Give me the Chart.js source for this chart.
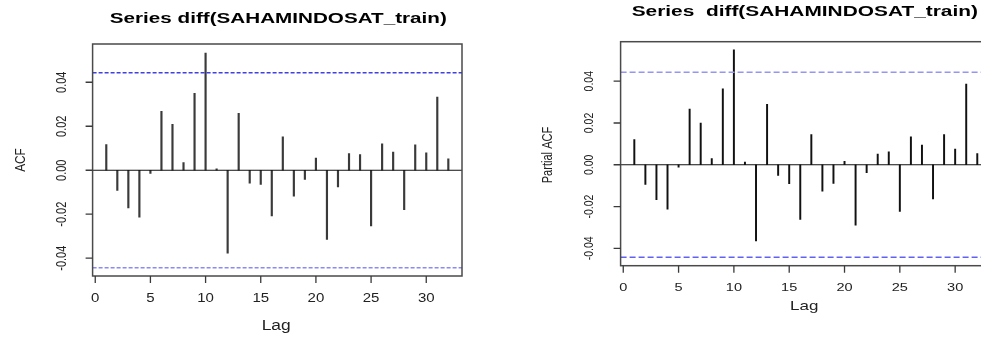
<!DOCTYPE html>
<html>
<head>
<meta charset="utf-8">
<script src="https://cdn.jsdelivr.net/npm/chart.js@4.4.1/dist/chart.umd.min.js"></script>
<style>
    html, body { margin: 0; padding: 0; background: #fff; overflow: hidden; }
    body { width: 981px; height: 337px; position: relative; }
    canvas { position: absolute; top: 0; }
    #acfChart { left: 0; }
    #pacfChart { left: 490px; }
</style>
</head>
<body>
<canvas id="acfChart" width="490" height="337"></canvas>
<canvas id="pacfChart" width="520" height="337"></canvas>
<script>
const lags = [1, 2, 3, 4, 5, 6, 7, 8, 9, 10, 11, 12, 13, 14, 15, 16,
    17, 18, 19, 20, 21, 22, 23, 24, 25, 26, 27, 28, 29, 30, 31, 32];

const acfValues = [0.0117, -0.0092, -0.0171, -0.0214, -0.0014, 0.0268, 0.0209, 0.0035,
    0.0350, 0.0533, 0.0006, -0.0377, 0.0259, -0.0059, -0.0065, -0.0208,
    0.0152, -0.0118, -0.0042, 0.0055, -0.0315, -0.0076, 0.0076, 0.0071,
    -0.0253, 0.0120, 0.0082, -0.0179, 0.0115, 0.0079, 0.0333, 0.0052];

const pacfValues = [0.0120, -0.0094, -0.0167, -0.0212, -0.0011, 0.0266, 0.0199, 0.0030,
    0.0364, 0.0550, 0.0013, -0.0364, 0.0289, -0.0051, -0.0091, -0.0262,
    0.0144, -0.0126, -0.0089, 0.0016, -0.0289, -0.0038, 0.0051, 0.0062,
    -0.0223, 0.0134, 0.0094, -0.0164, 0.0144, 0.0075, 0.0386, 0.0054];

const ciBound = 0.0443;
const xTicks = [0, 5, 10, 15, 20, 25, 30];
const yTicks = [-0.04, -0.02, 0, 0.02, 0.04];
const yTickLabels = ['-0.04', '-0.02', '0.00', '0.02', '0.04'];

const FONT = '"Liberation Sans", Arial, Helvetica, sans-serif';

// text drawn stretched, the reference picture was scaled unevenly
function drawText(ctx, s, x, y, o) {
    ctx.save();
    ctx.translate(x, y);
    if (o.rot) ctx.rotate(-Math.PI / 2);
    ctx.font = (o.bold ? 'bold ' : '') + o.size + 'px ' + FONT;
    const w = ctx.measureText(s).width;
    const k = o.len ? o.len / w : (o.k || 1);
    ctx.scale(k, o.cross || 1);
    ctx.textAlign = 'center';
    ctx.textBaseline = 'alphabetic';
    ctx.fillStyle = o.color || '#222';
    ctx.fillText(s, 0, o.size * 0.716 / 2);
    ctx.restore();
}

function framePlugin(p) {
    return {
        id: 'frame',
        afterDraw(chart) {
            const ctx = chart.ctx;
            const a = chart.chartArea;
            const xs = chart.scales.x;
            const ys = chart.scales.y;
            ctx.save();
            ctx.strokeStyle = '#4a4a4a';
            ctx.lineWidth = 1.5;
            ctx.strokeRect(a.left, a.top, a.right - a.left, a.bottom - a.top);

            ctx.strokeStyle = '#3a3a3a';
            ctx.lineWidth = 1.3;
            ctx.beginPath();
            xTicks.forEach(t => {
                const px = xs.getPixelForValue(t);
                ctx.moveTo(px, a.bottom);
                ctx.lineTo(px, a.bottom + 7);
            });
            yTicks.forEach(t => {
                const py = ys.getPixelForValue(t);
                ctx.moveTo(a.left, py);
                ctx.lineTo(a.left - 7, py);
            });
            ctx.stroke();
            ctx.restore();

            xTicks.forEach(t => {
                drawText(ctx, String(t), xs.getPixelForValue(t), p.xTickY,
                    { size: p.xTickSize, k: p.xTickK });
            });
            yTicks.forEach((t, i) => {
                drawText(ctx, yTickLabels[i], p.yTickX, ys.getPixelForValue(t),
                    { size: p.yTickSize, rot: true, cross: 1.3 });
            });
            drawText(ctx, p.title, p.titleX, p.titleY,
                { size: p.titleSize, bold: true, len: p.titleLen, color: '#000' });
            drawText(ctx, 'Lag', p.lagX, p.lagY, { size: p.lagSize, len: p.lagLen });
            drawText(ctx, p.yTitle, p.yTitleX, p.yTitleY,
                { size: p.yTitleSize, len: p.yTitleLen, rot: true, cross: 1.3 });
        }
    };
}

function makeChart(id, values, yMin, yMax, padding, look, p) {
    const spikes = lags.map((l, i) => ({ x: l, y: values[i] }));
    const xMin = -0.24, xMax = 33.24;
    return new Chart(document.getElementById(id), {
        type: 'bar',
        data: {
            datasets: [
                {
                    type: 'line',
                    data: [{ x: xMin, y: ciBound }, { x: xMax, y: ciBound }],
                    borderColor: look.ciTop, borderWidth: 1.5, borderDash: look.dash,
                    pointRadius: 0
                },
                {
                    type: 'line',
                    data: [{ x: xMin, y: -ciBound }, { x: xMax, y: -ciBound }],
                    borderColor: look.ciBottom, borderWidth: 1.5, borderDash: look.dash,
                    pointRadius: 0
                },
                {
                    type: 'line',
                    data: [{ x: xMin, y: 0 }, { x: xMax, y: 0 }],
                    borderColor: '#111', borderWidth: 1.2, pointRadius: 0
                },
                {
                    data: spikes,
                    backgroundColor: look.spike,
                    barThickness: look.spikeWidth
                }
            ]
        },
        options: {
            responsive: false,
            animation: false,
            devicePixelRatio: 1,
            layout: { padding: padding },
            plugins: { legend: { display: false }, tooltip: { enabled: false } },
            scales: {
                x: { type: 'linear', min: xMin, max: xMax, offset: false, display: false },
                y: { type: 'linear', min: yMin, max: yMax, display: false }
            }
        },
        plugins: [framePlugin(p)]
    });
}

makeChart('acfChart', acfValues, -0.0481, 0.0574,
    { left: 92.6, top: 44, right: 28, bottom: 61 },
    { ciTop: '#4040e0', ciBottom: '#8a8af2', dash: [4, 2], spike: '#3a3a3a', spikeWidth: 1.5 },
    {
        title: 'Series diff(SAHAMINDOSAT_train)', titleX: 278.3, titleY: 18, titleSize: 14.8, titleLen: 337,
        yTitle: 'ACF', yTitleX: 19.3, yTitleY: 160, yTitleSize: 11.5, yTitleLen: 23.7,
        yTickX: 61, yTickSize: 11,
        xTickY: 297.5, xTickSize: 12, xTickK: 1.25,
        lagX: 276.2, lagY: 324.5, lagSize: 14, lagLen: 29
    });

makeChart('pacfChart', pacfValues, -0.0483, 0.0589,
    { left: 130.6, top: 41.7, right: 19, bottom: 71.3 },
    { ciTop: '#9595f2', ciBottom: '#6262f2', dash: [6, 3], spike: '#111', spikeWidth: 1.3 },
    {
        title: 'Series  diff(SAHAMINDOSAT_train)', titleX: 314.8, titleY: 11, titleSize: 14, titleLen: 346.3,
        yTitle: 'Partial ACF', yTitleX: 56.7, yTitleY: 155, yTitleSize: 11, yTitleLen: 56.7,
        yTickX: 98.3, yTickSize: 10.5,
        xTickY: 286.7, xTickSize: 11.2, xTickK: 1.3,
        lagX: 314.2, lagY: 305, lagSize: 13.5, lagLen: 28.3
    });
</script>
</body>
</html>
